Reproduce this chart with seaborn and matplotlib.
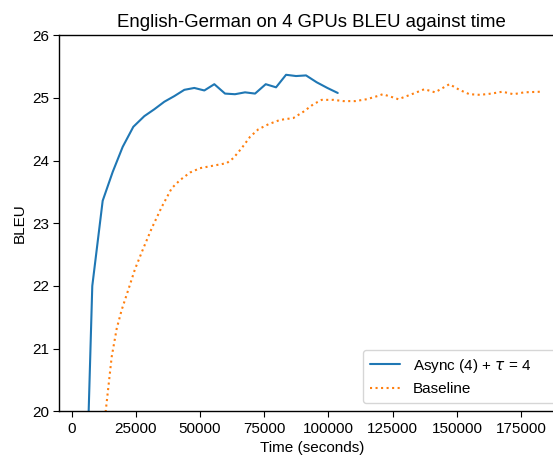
import pandas as pd
import matplotlib
matplotlib.use("Agg")
import matplotlib.pyplot as plt
import seaborn as sns

# Async (4) + tau = 4
async_time = [4150, 8020, 12070, 15970, 19860, 24000, 28280, 32180, 36070, 39970,
              43860, 47750, 51650, 55540, 59710, 63600, 67500, 71400, 75560, 79580,
              83470, 87370, 91260, 95420, 99560, 103600]
async_bleu = [16.5, 22.0, 23.36, 23.82, 24.22, 24.54, 24.71, 24.82, 24.94, 25.03,
              25.13, 25.16, 25.12, 25.22, 25.07, 25.06, 25.09, 25.07, 25.22, 25.17,
              25.37, 25.35, 25.36, 25.25, 25.16, 25.08]

# Baseline
base_time = [9000, 13240, 15580, 17530, 19480, 22050, 24660, 27890, 31160, 35050,
             38950, 42180, 46080, 49970, 55150, 60370, 62940, 66210, 69450, 72680,
             76580, 81130, 86310, 90210, 94110, 97380, 101900, 105790, 110350, 114900,
             119030, 121130, 125030, 127200, 133050, 137340, 141500, 147080, 150970, 154870,
             159030, 163430, 167720, 172000, 176290, 182680]
base_bleu = [18.3, 20.0, 20.87, 21.32, 21.62, 21.94, 22.27, 22.60, 22.92, 23.26,
             23.56, 23.69, 23.81, 23.88, 23.92, 23.96, 24.04, 24.20, 24.38, 24.50,
             24.58, 24.65, 24.68, 24.78, 24.90, 24.97, 24.97, 24.95, 24.95, 24.98,
             25.03, 25.06, 25.01, 24.98, 25.07, 25.14, 25.09, 25.22, 25.13, 25.06,
             25.05, 25.07, 25.10, 25.06, 25.09, 25.10]

df_async = pd.DataFrame({"time": async_time, "bleu": async_bleu})
df_base = pd.DataFrame({"time": base_time, "bleu": base_bleu})

sns.set_theme(style="ticks", rc={
    "axes.edgecolor": "black",
    "axes.linewidth": 1.0,
    "text.color": "black",
    "axes.labelcolor": "black",
    "xtick.color": "black",
    "ytick.color": "black",
    "xtick.major.size": 4,
    "ytick.major.size": 4,
    "xtick.major.width": 0.8,
    "ytick.major.width": 0.8,
})
plt.rcParams["font.family"] = ["Liberation Sans", "DejaVu Sans"]

fig = plt.figure(figsize=(5.53, 4.55), dpi=100)
ax = fig.add_axes([0.1072, 0.096, 0.9136, 0.8264])

sns.lineplot(data=df_async, x="time", y="bleu", ax=ax, color="#1f77b4",
             linewidth=1.5, label=r"Async (4) + $\tau$ = 4")
sns.lineplot(data=df_base, x="time", y="bleu", ax=ax, color="#ff7f0e",
             linewidth=1.5, linestyle=":", label="Baseline")

ax.set_xlim(-4830, 191900)
ax.set_ylim(20, 26)
ax.set_xticks([0, 25000, 50000, 75000, 100000, 125000, 150000, 175000])
ax.set_yticks([20, 21, 22, 23, 24, 25, 26])
ax.tick_params(labelsize=11)
ax.set_title("English-German on 4 GPUs BLEU against time", fontsize=13.4)
ax.set_xlabel("Time (seconds)", fontsize=11)
ax.set_ylabel("BLEU", fontsize=11)
ax.legend(loc="lower left", bbox_to_anchor=(0.601, 0.022, 0.39, 0.13),
          mode="expand", borderaxespad=0, borderpad=0.45, fontsize=11)

fig.savefig("out.png", dpi=100)
